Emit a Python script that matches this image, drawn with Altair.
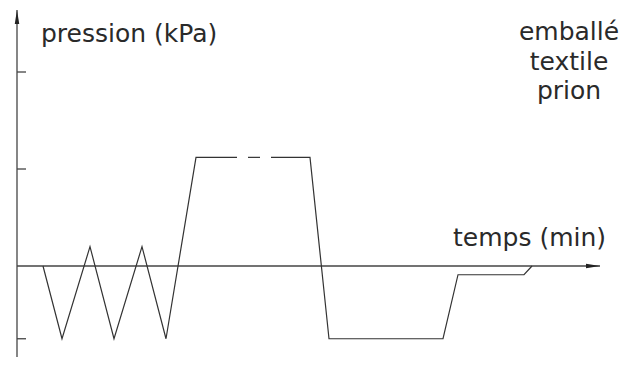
import altair as alt
import pandas as pd

# ---- data (time: arbitrary min units, pressure: kPa units)
seg_a_t = [2.6, 4.5, 7.3, 9.7, 12.5, 14.9, 17.9, 22.0]
seg_a_p = [0.0, -0.75, 0.2, -0.75, 0.2, -0.75, 1.12, 1.12]
seg_b_t = [23.1, 24.3]
seg_b_p = [1.12, 1.12]
seg_c_t = [25.4, 29.3, 31.2, 42.6, 44.1, 50.7, 51.5]
seg_c_p = [1.12, 1.12, -0.75, -0.75, -0.09, -0.09, 0.0]

y_ticks = [2.0, 1.0, -0.75]
y_title = ["pression (kPa)"]
x_title = ["temps (min)"]
legend_lines = ["emballé", "textile", "prion"]

# axis extents (in data units)
x_axis_end = 58.3
y_axis_top = 2.64
y_axis_bottom = -0.99
tick_len = 0.9

FONT = "DejaVu Sans"
INK = "#2a2a2a"
LINE = "#333333"

xs = alt.Scale(domain=[-0.9, 61.7], nice=False, zero=False)
ys = alt.Scale(domain=[-0.9381, 2.6598], nice=False, zero=False)

curve = pd.DataFrame({
    "t": seg_a_t + seg_b_t + seg_c_t,
    "p": seg_a_p + seg_b_p + seg_c_p,
    "seg": ["a"] * len(seg_a_t) + ["b"] * len(seg_b_t) + ["c"] * len(seg_c_t),
    "order": list(range(len(seg_a_t) + len(seg_b_t) + len(seg_c_t))),
})

line = alt.Chart(curve).mark_line(color=LINE, strokeWidth=1.2).encode(
    x=alt.X("t:Q", scale=xs, axis=None),
    y=alt.Y("p:Q", scale=ys, axis=None),
    detail="seg:N",
    order="order:Q",
)

axes_df = pd.DataFrame({
    "x": [0.0, 0.0],
    "x2": [0.0, x_axis_end],
    "y": [y_axis_bottom, 0.0],
    "y2": [y_axis_top, 0.0],
})
axes = alt.Chart(axes_df).mark_rule(color="#444444", strokeWidth=1.3).encode(
    x=alt.X("x:Q", scale=xs, axis=None),
    x2="x2:Q",
    y=alt.Y("y:Q", scale=ys, axis=None),
    y2="y2:Q",
)

ticks_df = pd.DataFrame({"p": y_ticks, "x": [0.0] * len(y_ticks), "x2": [tick_len] * len(y_ticks)})
ticks = alt.Chart(ticks_df).mark_rule(color="#444444", strokeWidth=1.3).encode(
    x=alt.X("x:Q", scale=xs, axis=None),
    x2="x2:Q",
    y=alt.Y("p:Q", scale=ys, axis=None),
)

up_arrow = alt.Chart(pd.DataFrame({"t": [0.0], "p": [2.567]})).mark_point(
    shape="M0,-1 L-0.32,1 L0.32,1 Z", size=196, filled=True, color="#222222", opacity=1
).encode(x=alt.X("t:Q", scale=xs, axis=None), y=alt.Y("p:Q", scale=ys, axis=None))

right_arrow = alt.Chart(pd.DataFrame({"t": [57.6], "p": [0.0]})).mark_point(
    shape="M1,0 L-1,-0.32 L-1,0.32 Z", size=196, filled=True, color="#222222", opacity=1
).encode(x=alt.X("t:Q", scale=xs, axis=None), y=alt.Y("p:Q", scale=ys, axis=None))

ytitle = alt.Chart(pd.DataFrame({"label": y_title})).mark_text(
    font=FONT, fontSize=25, color=INK, align="left", baseline="alphabetic"
).encode(x=alt.value(33), y=alt.value(34), text="label:N")

xtitle = alt.Chart(pd.DataFrame({"label": x_title})).mark_text(
    font=FONT, fontSize=25, color=INK, align="left", baseline="alphabetic"
).encode(x=alt.value(445), y=alt.value(238), text="label:N")

legend = alt.Chart(pd.DataFrame({"a": [0]})).mark_text(
    font=FONT, fontSize=25, color=INK, align="center", baseline="alphabetic", lineHeight=29.5
).encode(x=alt.value(561), y=alt.value(32), text=alt.value(legend_lines))

chart = alt.layer(axes, ticks, line, up_arrow, right_arrow, ytitle, xtitle, legend).properties(
    width=626, height=349, padding=0,
    autosize=alt.AutoSizeParams(type="none"),
).configure_view(strokeWidth=0)

chart.save("out.html", embed_options={"renderer": "svg", "actions": False})
